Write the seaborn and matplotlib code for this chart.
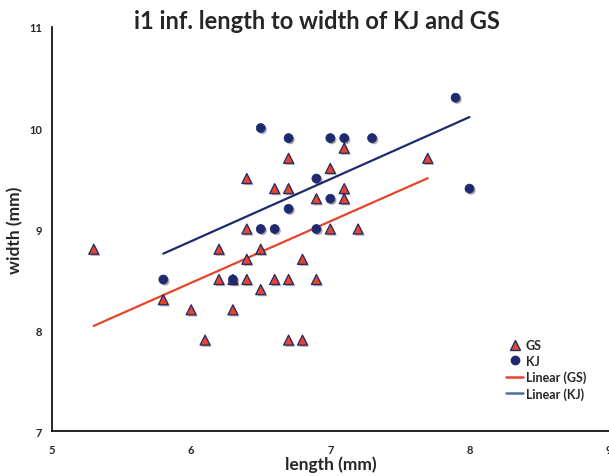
import numpy as np
import pandas as pd
import matplotlib
matplotlib.use("Agg")
import matplotlib.pyplot as plt
import matplotlib.patheffects as pe
from matplotlib.lines import Line2D
import seaborn as sns

# GS (triangles)
gs_length = [5.3, 5.8, 6.0, 6.1, 6.2, 6.2, 6.3, 6.3, 6.4, 6.4, 6.4, 6.4, 6.5, 6.5,
             6.6, 6.6, 6.7, 6.7, 6.7, 6.7, 6.8, 6.8, 6.9, 6.9, 7.0, 7.0, 7.1, 7.1,
             7.1, 7.2, 7.7]
gs_width = [8.8, 8.3, 8.2, 7.9, 8.8, 8.5, 8.2, 8.5, 9.5, 9.0, 8.7, 8.5, 8.8, 8.4,
            9.4, 8.5, 9.7, 9.4, 8.5, 7.9, 8.7, 7.9, 9.3, 8.5, 9.6, 9.0, 9.8, 9.4,
            9.3, 9.0, 9.7]

# KJ (circles)
kj_length = [5.8, 6.3, 6.5, 6.5, 6.6, 6.7, 6.7, 6.9, 6.9, 7.0, 7.0, 7.1, 7.3, 7.9, 8.0]
kj_width = [8.5, 8.5, 10.0, 9.0, 9.0, 9.9, 9.2, 9.5, 9.0, 9.9, 9.3, 9.9, 9.9, 10.3, 9.4]

gs = pd.DataFrame({"length": gs_length, "width": gs_width})
kj = pd.DataFrame({"length": kj_length, "width": kj_width})

sns.set_style("white")
plt.rcParams["font.family"] = ["Lato", "DejaVu Sans"]

red = "#E5452A"
navy = "#1F2A6E"
shadow = [pe.SimplePatchShadow(offset=(1.2, -1.2), alpha=0.35), pe.Normal()]

fig = plt.figure(figsize=(6.09, 4.77), dpi=100)
ax = fig.add_axes([0.0854, 0.0943, 0.914, 0.847])

sns.regplot(data=gs, x="length", y="width", scatter=False, ci=None, truncate=True,
            color=red, line_kws={"lw": 1.6}, ax=ax)
sns.regplot(data=kj, x="length", y="width", scatter=False, ci=None, truncate=True,
            color=navy, line_kws={"lw": 1.6}, ax=ax)

s1 = ax.scatter(gs["length"], gs["width"], marker="^", s=52, c=red,
                edgecolors=navy, linewidths=0.9, zorder=3)
s2 = ax.scatter(kj["length"], kj["width"], marker="o", s=42, c=navy,
                edgecolors=navy, linewidths=0.5, zorder=3)
s1.set_path_effects(shadow)
s2.set_path_effects(shadow)

ax.set_xlim(5, 9)
ax.set_ylim(7, 11)
ax.set_xticks([5, 6, 7, 8, 9])
ax.set_yticks([7, 8, 9, 10, 11])
ax.tick_params(direction="out", length=4, width=1, labelsize=8, color="black", pad=3)
ax.tick_params(axis="x", pad=5)
for lab in ax.get_xticklabels() + ax.get_yticklabels():
    lab.set_fontweight("bold")
for side in ["top", "right"]:
    ax.spines[side].set_visible(False)
for side in ["left", "bottom"]:
    ax.spines[side].set_color("black")
    ax.spines[side].set_linewidth(1.2)

ax.set_xlabel("length (mm)", fontsize=12.5, fontweight="bold", labelpad=1)
ax.set_ylabel("width (mm)", fontsize=12.5, fontweight="bold", labelpad=4)
fig.text(0.52, 0.955, "i1 inf. length to width of KJ and GS", ha="center", va="center",
         fontsize=17, fontweight="bold")

handles = [
    Line2D([], [], marker="^", ls="none", color=red, markeredgecolor=navy, markersize=6.5),
    Line2D([], [], marker="o", ls="none", color=navy, markersize=6),
    Line2D([], [], color=red, lw=1.8),
    Line2D([], [], color="#4A6FA5", lw=1.8),
]
ax.legend(handles, ["GS", "KJ", "Linear (GS)", "Linear (KJ)"], loc="lower right",
          bbox_to_anchor=(0.98, 0.05), frameon=False, handlelength=1.4,
          handletextpad=0.2, labelspacing=0.3, prop={"weight": "bold", "size": 9})

fig.savefig("out.png", dpi=100)
